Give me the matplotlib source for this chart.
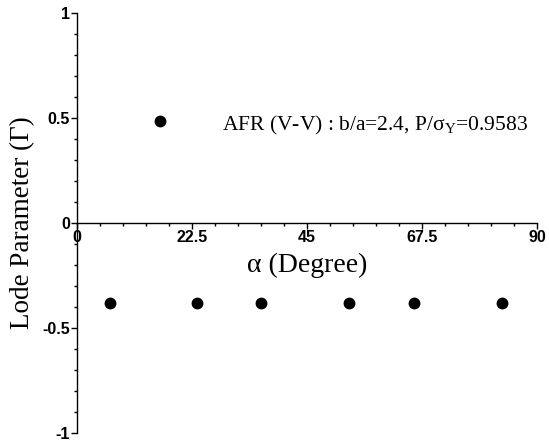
import numpy as np
import matplotlib
matplotlib.use("Agg")
import matplotlib.pyplot as plt
from matplotlib.ticker import MultipleLocator

# data
alpha = [16.2, 6.5, 23.5, 36.0, 53.2, 65.9, 83.2]
lode = [0.486, -0.38, -0.38, -0.38, -0.38, -0.38, -0.38]
x_ticks = [0, 22.5, 45, 67.5, 90]
x_tick_labels = ["0", "22.5", "45", "67.5", "90"]
y_ticks = [-1, -0.5, 0, 0.5, 1]
y_tick_labels = ["-1", "-0.5", "0", "0.5", "1"]

plt.rcParams['mathtext.fontset'] = 'custom'
plt.rcParams['mathtext.rm'] = 'Liberation Serif'
plt.rcParams['mathtext.it'] = 'Liberation Serif:italic'

fig = plt.figure(figsize=(5.49, 4.41), dpi=100)
ax = fig.add_axes([77/549, 8/441, 460/549, 420/441])

ax.plot(alpha, lode, 'o', color='black', markersize=7.5, clip_on=False)

ax.set_xlim(0, 90)
ax.set_ylim(-1, 1)
ax.spines['top'].set_visible(False)
ax.spines['right'].set_visible(False)
ax.spines['bottom'].set_position(('data', 0))
ax.spines['left'].set_linewidth(1.0)
ax.spines['bottom'].set_linewidth(1.0)

ax.set_xticks(x_ticks)
ax.set_xticklabels(x_tick_labels)
ax.set_yticks(y_ticks)
ax.set_yticklabels(y_tick_labels)
ax.xaxis.set_minor_locator(MultipleLocator(4.5))
ax.yaxis.set_minor_locator(MultipleLocator(0.1))
ax.tick_params(which='major', direction='out', length=4, width=1, pad=1)
ax.tick_params(which='minor', direction='out', length=2.5, width=1)
for lab in ax.get_xticklabels() + ax.get_yticklabels():
    lab.set_fontfamily('Liberation Sans')
    lab.set_fontweight('bold')
    lab.set_fontsize(11.5)

ax.set_xlabel(r"α (Degree)", family='Liberation Serif', fontsize=20)
ax.xaxis.set_label_coords(0.5, 0.43)
ax.set_ylabel("Lode Parameter (Γ)", family='Liberation Serif', fontsize=19.5)
ax.yaxis.set_label_coords(-0.09, 0.5)

ax.text(0.316, 0.733, r"AFR (V-V) : b/a=2.4, P/$\mathrm{\sigma_{Y}}$=0.9583",
        transform=ax.transAxes, family='Liberation Serif', fontsize=15.5,
        va='center', ha='left')

plt.savefig("out.png", dpi=100)
